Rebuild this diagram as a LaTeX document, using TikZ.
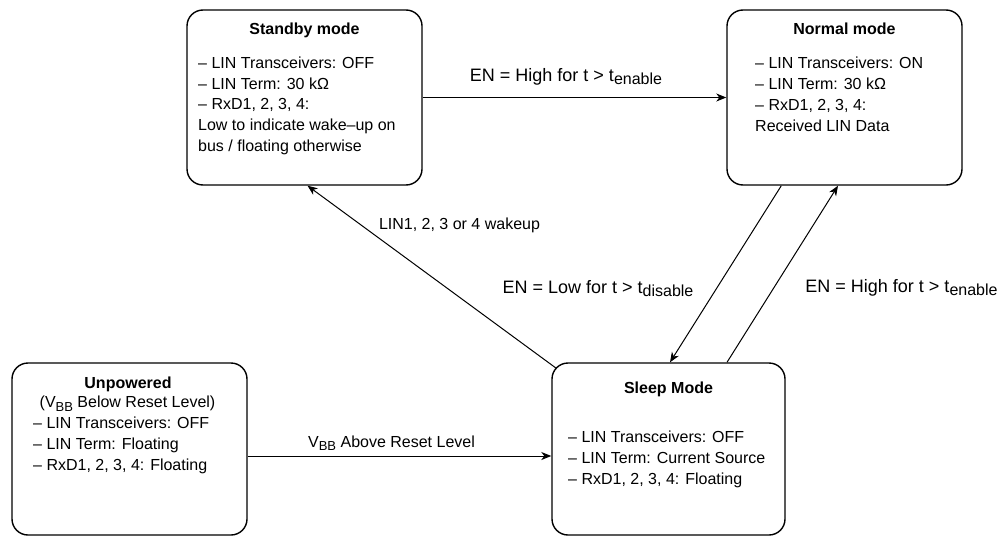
\documentclass[tikz,border=0pt]{standalone}
\usepackage{fontspec}
\setmainfont{Liberation Sans}
\usetikzlibrary{arrows.meta}
\newcommand\mysub[2]{\raisebox{-0.22em}{\fontsize{#1}{#1}\selectfont #2}}
\newcommand\mylines[1]{\begin{tabular}[t]{@{}l@{}}#1\end{tabular}}
\begin{document}
\begin{tikzpicture}[x=1pt,y=-1pt,
  statebox/.style={draw,line width=1.4pt,rounded corners=16pt,inner sep=0pt,minimum width=235pt,minimum height=175pt},
  body/.style={anchor=base west,inner sep=0pt,font=\fontsize{16}{20.8}\selectfont},
  ttl/.style={anchor=base,inner sep=0pt,font=\fontsize{16}{20.8}\selectfont\bfseries},
  sttl/.style={anchor=base,inner sep=0pt,font=\fontsize{16}{20.8}\selectfont},
  lbl/.style={anchor=base,inner sep=0pt,font=\fontsize{18}{20}\selectfont},
  slbl/.style={anchor=base,inner sep=0pt,font=\fontsize{16}{20}\selectfont},
  conn/.style={line width=1pt,-{Stealth[length=10pt,width=8pt,inset=3pt]}}]
\useasboundingbox (0,0) rectangle (1000,538);

% boxes
\node[statebox] (standby) at (304.5,97.5) {};
\node[statebox] (normal) at (844.5,97.5) {};
\node[statebox,minimum height=172pt] (unp) at (129.5,449) {};
\node[statebox,minimum width=233pt,minimum height=172pt] (sleep) at (668.5,449) {};

% box texts
\node[ttl] (standbyT) at (304.5,34.7) {Standby mode};
\node[body] (standbyB) at (198,68.3) {\mylines{– LIN Transceivers: OFF\\– LIN Term: 30 kΩ\\– RxD1, 2, 3, 4:\\Low to indicate wake–up on\\bus / floating otherwise}};

\node[ttl] (normalT) at (844.5,34.7) {Normal mode};
\node[body] (normalB) at (755,68.7) {\mylines{– LIN Transceivers: ON\\– LIN Term: 30 kΩ\\– RxD1, 2, 3, 4:\\Received LIN Data}};

\node[ttl] (unpT) at (128,388.7) {Unpowered};
\node[sttl] (unpS) at (127.5,407.5) {(V\mysub{13}{BB} Below Reset Level)};
\node[body] (unpB) at (33,428.7) {\mylines{– LIN Transceivers: OFF\\– LIN Term: Floating\\– RxD1, 2, 3, 4: Floating}};

\node[ttl] (sleepT) at (668.5,393) {Sleep Mode};
\node[body] (sleepB) at (568,442.4) {\mylines{– LIN Transceivers: OFF\\– LIN Term: Current Source\\– RxD1, 2, 3, 4: Floating}};

% connectors
\draw[conn] (standby.east) -- (normal.west);
\draw[conn] ([shift={(5,6)}]sleep.north west) -- ([xshift=3pt]standby.south);
\draw[conn] ([xshift=55pt]normal.south west) -- ([xshift=1.5pt]sleep.north);
\draw[conn] ([xshift=58.5pt]sleep.north) -- ([xshift=-6.5pt]normal.south);
\draw[conn] ([yshift=-7pt]unp.east) -- ([yshift=-7pt]sleep.west);

% connector labels
\node[lbl] (l1) at (566,81) {EN = High for t > t\mysub{16}{enable}};
\node[slbl] (l2) at (459.5,229) {LIN1, 2, 3 or 4 wakeup};
\node[lbl] (l3) at (598,293) {EN = Low for t > t\mysub{16}{disable}};
\node[lbl] (l4) at (901.5,292) {EN = High for t > t\mysub{16}{enable}};
\node[slbl] (l5) at (391.5,447) {V\mysub{13}{BB} Above Reset Level};
\end{tikzpicture}
\end{document}
